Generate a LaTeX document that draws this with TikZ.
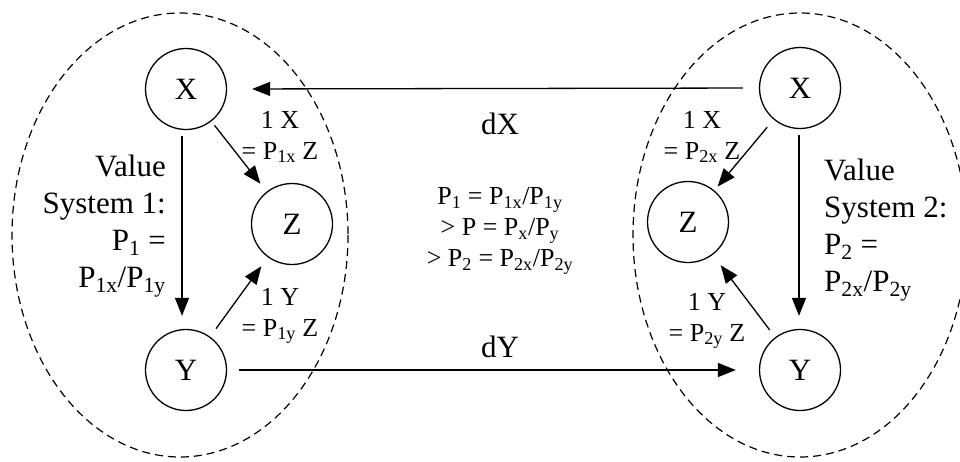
\documentclass[tikz,border=0pt]{standalone}
\usepackage{fontspec}
\setmainfont{Liberation Serif}
\usetikzlibrary{arrows.meta}
\newcommand{\bigtxt}{\fontsize{31}{37}\selectfont}
\newcommand{\smltxt}{\fontsize{26}{31}\selectfont}
\newcommand{\sbx}[1]{\textsubscript{#1}}
\begin{document}
\begin{tikzpicture}[x=1pt,y=-1pt,
  vnode/.style={circle,draw,line width=1.3pt,minimum size=81pt,inner sep=0pt,font=\bigtxt},
  arr/.style={line width=1.3pt,-{Triangle[length=18pt,width=14pt]}},
  grp/.style={line width=1.2pt,dash pattern=on 8pt off 5pt},
  lbl/.style={inner sep=0pt,font=\smltxt,align=center},
  biglbl/.style={inner sep=0pt,font=\bigtxt}
]
\useasboundingbox (0,0) rectangle (960,461);
% value-system groups
\draw[grp] (180,235) ellipse [x radius=168, y radius=222];
\draw[grp] (800,235) ellipse [x radius=167, y radius=222];
% goods
\node[vnode] (X1) at (186,89) {X};
\node[vnode] (Z1) at (292,224) {Z};
\node[vnode] (Y1) at (186,370) {Y};
\node[vnode] (X2) at (800,88) {X};
\node[vnode] (Z2) at (688,222) {Z};
\node[vnode] (Y2) at (800,370) {Y};
% connectors
\draw[arr, shorten <=16pt, shorten >=25pt] (X2.west) -- (X1.east);
\draw[arr, shorten <=12pt, shorten >=23pt] (Y1.east) -- (Y2.west);
\draw[arr, shorten <=6pt, shorten >=13pt] ([xshift=-4pt]X1.south) -- ([xshift=-4pt]Y1.north);
\draw[arr, shorten <=5pt, shorten >=10pt] (X1) -- (Z1);
\draw[arr, shorten <=10pt, shorten >=11pt] (Y1) -- (Z1);
\draw[arr, shorten <=6pt, shorten >=13pt] ([xshift=-1pt]X2.south) -- ([xshift=-1pt]Y2.north);
\draw[arr, shorten <=10pt, shorten >=5pt] (X2) -- (Z2);
\draw[arr, shorten <=9pt, shorten >=13pt] (Y2) -- (Z2);
% labels
\node[biglbl, align=right, anchor=east] (V1) at (166,226)
  {Value\\System 1:\\P\sbx{1} =\\P\sbx{1x}/P\sbx{1y}};
\node[biglbl, align=left, anchor=west] (V2) at (824,230)
  {Value\\System 2:\\P\sbx{2} =\\P\sbx{2x}/P\sbx{2y}};
\node[lbl] (L1) at (280,137) {1 X\\= P\sbx{1x} Z};
\node[lbl] (L2) at (280,316) {1 Y\\= P\sbx{1y} Z};
\node[lbl] (L3) at (702,137) {1 X\\= P\sbx{2x} Z};
\node[lbl] (L4) at (707,321) {1 Y\\= P\sbx{2y} Z};
\node[lbl] (C) at (500,231)
  {P\sbx{1} = P\sbx{1x}/P\sbx{1y}\\> P = P\sbx{x}/P\sbx{y}\\> P\sbx{2} = P\sbx{2x}/P\sbx{2y}};
\node[biglbl] (dX) at (500,124) {dX};
\node[biglbl] (dY) at (500,347) {dY};
\end{tikzpicture}
\end{document}
